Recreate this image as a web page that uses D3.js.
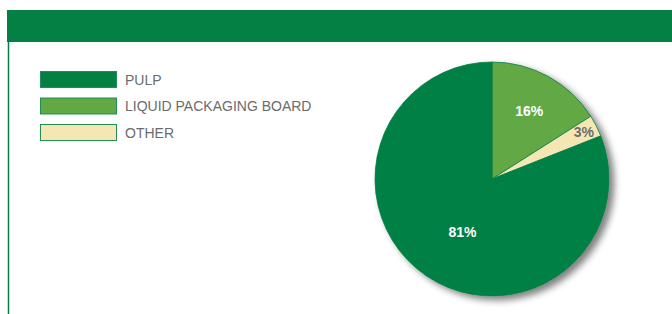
<!DOCTYPE html>
<html>
  <head>
    <script type="text/javascript" src="https://cdn.jsdelivr.net/npm/d3@7"></script>
    <style>
      body { margin: 0; background: #fff; }
    </style>
  </head>
  <body>
    <div id="viz"></div>
    <script type="text/javascript">
      const categories = ["LIQUID PACKAGING BOARD", "OTHER", "PULP"];
      const values = [16, 3, 81];
      const legendOrder = ["PULP", "LIQUID PACKAGING BOARD", "OTHER"];
      const colors = ["#62a845", "#f4e7b4", "#058045"];
      const labelColors = ["#ffffff", "#6d6d6d", "#ffffff"];

      const width = 672;
      const height = 314;

      var svg = d3.select("#viz")
        .append("svg")
        .attr("width", width)
        .attr("height", height);

      // shadow for the pie
      const defs = svg.append("defs");
      const filt = defs.append("filter")
        .attr("id", "shadow")
        .attr("x", "-20%").attr("y", "-20%")
        .attr("width", "140%").attr("height", "140%");
      filt.append("feGaussianBlur")
        .attr("in", "SourceAlpha")
        .attr("stdDeviation", 3.5);
      filt.append("feOffset").attr("dx", 5).attr("dy", 4).attr("result", "ob");
      filt.append("feComponentTransfer")
        .append("feFuncA").attr("type", "linear").attr("slope", 0.5);
      const merge = filt.append("feMerge");
      merge.append("feMergeNode");
      merge.append("feMergeNode").attr("in", "SourceGraphic");

      // banner + left rule
      svg.append("rect")
        .attr("x", 7).attr("y", 10)
        .attr("width", width - 7).attr("height", 32)
        .style("fill", "#058045");
      svg.append("line")
        .attr("x1", 8.5).attr("x2", 8.5)
        .attr("y1", 42).attr("y2", height)
        .style("stroke", "#058045")
        .style("stroke-width", 1.5);

      // legend
      const color = d3.scaleOrdinal().domain(categories).range(colors);
      const ly = d3.scalePoint().domain(legendOrder).range([79.5, 132.5]);

      const leg = svg.selectAll("g.leg")
        .data(legendOrder)
        .enter()
        .append("g")
        .attr("class", "leg")
        .attr("transform", d => "translate(40," + ly(d) + ")");

      leg.append("rect")
        .attr("x", 0.5).attr("y", -8)
        .attr("width", 76).attr("height", 16)
        .style("fill", d => color(d))
        .style("stroke", "#1f8f52")
        .style("stroke-width", 1);

      leg.append("text")
        .attr("x", 85).attr("y", 0)
        .attr("dy", "0.36em")
        .style("font-family", "'Liberation Sans', Arial, sans-serif")
        .style("font-size", "14px")
        .style("fill", "#6b6b6b")
        .text(d => d);

      // pie
      const cx = 492, cy = 179, r = 117;
      const pie = d3.pie().sort(null).value(d => d.v);
      const arcs = pie(categories.map((c, i) => ({ c: c, v: values[i], i: i })));
      const arc = d3.arc().innerRadius(0).outerRadius(r);

      const g = svg.append("g")
        .attr("transform", "translate(" + cx + "," + cy + ")");

      g.append("g")
        .attr("filter", "url(#shadow)")
        .selectAll("path")
        .data(arcs)
        .enter()
        .append("path")
        .attr("d", arc)
        .style("fill", d => color(d.data.c))
        .style("stroke", "#058045")
        .style("stroke-width", 0.8);

      const labelR = [0.66, 0.88, 0.52];
      g.selectAll("text.lbl")
        .data(arcs)
        .enter()
        .append("text")
        .attr("class", "lbl")
        .attr("transform", (d, i) => {
          const a = (d.startAngle + d.endAngle) / 2 - (i === 2 ? 0.09 : 0);
          const rr = r * labelR[i];
          return "translate(" + (Math.sin(a) * rr) + "," + (-Math.cos(a) * rr) + ")";
        })
        .attr("text-anchor", "middle")
        .attr("dy", "0.36em")
        .style("font-family", "'Liberation Sans', Arial, sans-serif")
        .style("font-weight", "bold")
        .style("font-size", "14px")
        .style("fill", (d, i) => labelColors[i])
        .text(d => d.data.v + "%");
    </script>
  </body>
</html>
